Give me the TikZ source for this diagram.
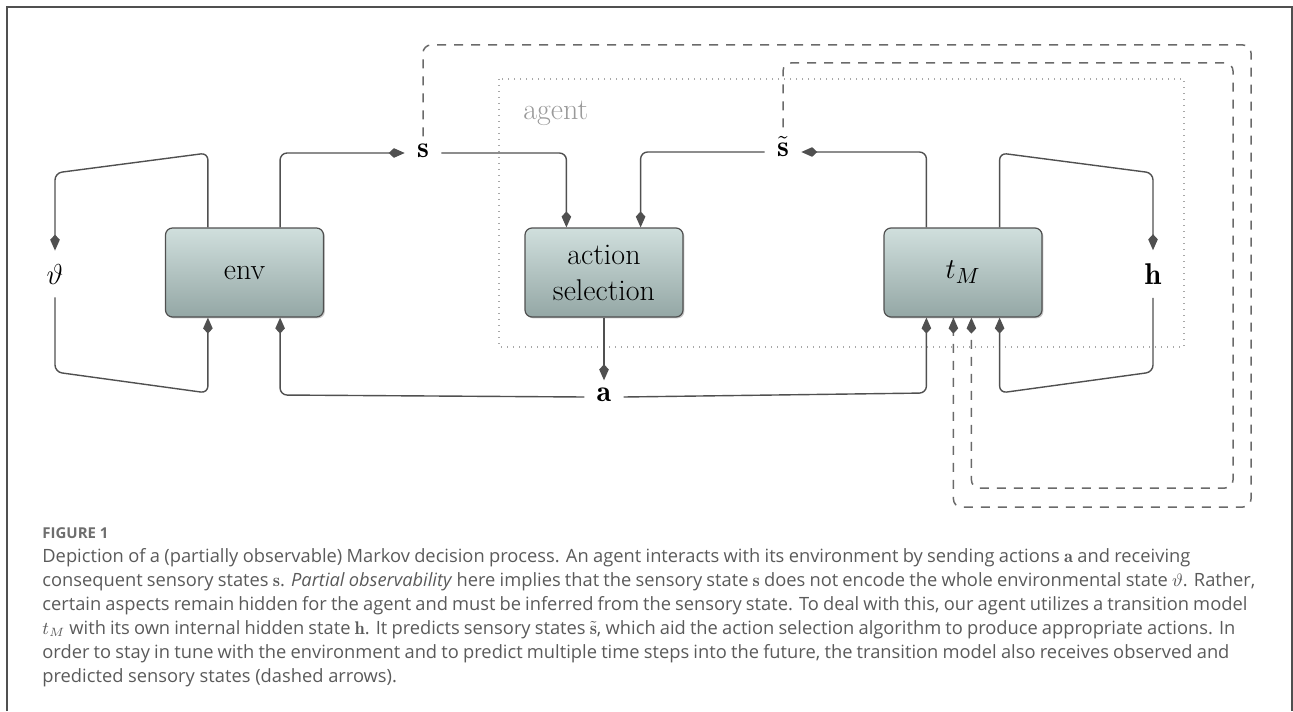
\documentclass[tikz,border=0pt]{standalone}
\usepackage{fontspec}
\newfontfamily\capfont{Open Sans}
\usetikzlibrary{arrows.meta,shadows,calc}
\definecolor{linec}{HTML}{505050}
\definecolor{dashc}{HTML}{6A6A6A}
\definecolor{dotc}{HTML}{A8A8A8}
\definecolor{boxtop}{HTML}{D0DFDD}
\definecolor{boxbot}{HTML}{94A7A5}
\definecolor{capc}{HTML}{5A5A5A}
\definecolor{figc}{HTML}{6E6E6E}
\definecolor{agentc}{HTML}{9A9A9A}
\begin{document}
\begin{tikzpicture}[x=0.5pt,y=-0.5pt,
  every node/.style={font=\fontsize{15}{18}\selectfont},
  box/.style={draw=linec, line width=0.6pt, rounded corners=3.5pt,
    top color=boxtop, bottom color=boxbot, minimum width=79pt, minimum height=44.5pt,
    inner sep=0pt, align=center,
    drop shadow={shadow xshift=0.7pt, shadow yshift=-0.7pt, opacity=0.3, fill=black!70}},
  var/.style={inner xsep=6pt, inner ysep=6.5pt},
  lowvar/.style={inner sep=6pt, text height=1ex, text depth=0pt},
  ln/.style={draw=linec, line width=0.7pt, rounded corners=3.5pt},
  arr/.style={-{Kite[length=8pt,width=4.8pt,inset=2.6pt]}},
  dsh/.style={draw=dashc, line width=0.75pt, dash pattern=on 4.5pt off 4pt, rounded corners=4pt},
  dotbox/.style={draw=dotc, line width=0.7pt, dash pattern=on 0.7pt off 2.3pt},
  capline/.style={anchor=base west, inner sep=0pt, text=capc, font=\capfont\fontsize{9.15}{11}\selectfont}
]
\useasboundingbox (0,0) rectangle (1293,711);
% frame
\draw[draw=linec, line width=0.8pt] (7,711) -- (7,7) -- (1292,7) -- (1292,711);

% agent region
\draw[dotbox] (499,79) rectangle (1184,347);
\node[anchor=base west, inner sep=0pt, text=agentc] (ag) at (523,119.5) {agent};

% boxes
\node[box] (env) at (244.5,272.5) {env};
\node[box, font=\fontsize{15}{18}\selectfont] (act) at (604,272.5) {action\\selection};
\node[box] (tm) at (963,272.5) {$t_M$};

% variables
\node[var] (th) at (55,274) {$\vartheta$};
\node[var] (hh) at (1153,274) {$\mathbf{h}$};
\node[lowvar] (s) at (423,153) {$\mathbf{s}$};
\node[lowvar] (st) at (783,152) {$\tilde{\mathbf{s}}$};
\node[lowvar] (a) at (604,397) {$\mathbf{a}$};

% attachment points
\coordinate (e1) at ($(env.north west)+(43,0)$);
\coordinate (e2) at ($(env.north east)+(-44,0)$);
\coordinate (e1b) at ($(env.south west)+(43,0)$);
\coordinate (e2b) at ($(env.south east)+(-44,0)$);
\coordinate (a1) at ($(act.north west)+(42,0)$);
\coordinate (a2) at ($(act.north east)+(-43,0)$);
\coordinate (t1) at ($(tm.north west)+(43,0)$);
\coordinate (t2) at ($(tm.north east)+(-43,0)$);
\coordinate (t1b) at ($(tm.south west)+(43,0)$);
\coordinate (t2b) at ($(tm.south east)+(-43,0)$);
\coordinate (t3b) at ($(tm.south west)+(70,0)$);
\coordinate (t4b) at ($(tm.south west)+(88,0)$);

% env <-> theta loop
\draw[ln,arr] (e1) -- (e1 |- 0,153) -- (th.north |- 0,173) -- (th.north);
\draw[ln,arr] (th.south) -- (th.south |- 0,372) -- (e1 |- 0,393) -- (e1b);
% env -> s
\draw[ln,arr] (e2) -- (e2 |- s.west) -- (s.west);
% s -> action
\draw[ln,arr] (s.east) -- (a1 |- s.east) -- (a1);
% s~ -> action
\draw[ln,arr] (st.west) -- (a2 |- st.west) -- (a2);
% tM -> s~
\draw[ln,arr] (t1) -- (t1 |- st.east) -- (st.east);
% tM <-> h loop
\draw[ln,arr] (t2) -- (t2 |- 0,153) -- (hh.north |- 0,173) -- (hh.north);
\draw[ln,arr] (hh.south) -- (hh.south |- 0,372) -- (t2 |- 0,393) -- (t2b);
% action -> a
\draw[ln,arr] (act.south) -- (a.north);
% a -> env, a -> tM
\draw[ln,arr] (a.west) -- (e2b |- 0,395) -- (e2b);
\draw[ln,arr] (a.east) -- (t1b |- 0,393) -- (t1b);

% dashed feedback
\draw[dsh] (s.north) -- (s.north |- 0,45) -- (1251,45) -- (1251,507) -- (t3b |- 0,507) -- (t3b);
\draw[dsh, shorten <=4pt] (st.north) -- (st.north |- 0,63) -- (1233,63) -- (1233,488) -- (t4b |- 0,488) -- (t4b);
\fill[linec] (t3b) -- ++(-2.4pt,-5.4pt) -- ++(2.4pt,-2.6pt) -- ++(2.4pt,2.6pt) -- cycle;
\fill[linec] (t4b) -- ++(-2.4pt,-5.4pt) -- ++(2.4pt,-2.6pt) -- ++(2.4pt,2.6pt) -- cycle;

% caption
\node[anchor=base west, inner sep=0pt, text=figc, font=\capfont\bfseries\fontsize{7.5}{9}\selectfont] (fig) at (42,538.3) {FIGURE 1};
\node[capline] (c1) at (42,562.7) {\makebox[574pt][s]{Depiction of a (partially observable) Markov decision process. An agent interacts with its environment by sending actions $\mathbf{a}$ and receiving}};
\node[capline] (c2) at (42,586.6) {\makebox[606.5pt][s]{consequent sensory states $\mathbf{s}$. \textit{Partial observability} here implies that the sensory state $\mathbf{s}$ does not encode the whole environmental state $\vartheta$. Rather,}};
\node[capline] (c3) at (42,610.5) {\makebox[602.5pt][s]{certain aspects remain hidden for the agent and must be inferred from the sensory state. To deal with this, our agent utilizes a transition model}};
\node[capline] (c4) at (42,634.4) {\makebox[596.5pt][s]{$t_M$ with its own internal hidden state $\mathbf{h}$. It predicts sensory states $\tilde{\mathbf{s}}$, which aid the action selection algorithm to produce appropriate actions. In}};
\node[capline] (c5) at (42,658.3) {\makebox[593.5pt][s]{order to stay in tune with the environment and to predict multiple time steps into the future, the transition model also receives observed and}};
\node[capline] (c6) at (42,682.2) {predicted sensory states (dashed arrows).};
\end{tikzpicture}
\end{document}
